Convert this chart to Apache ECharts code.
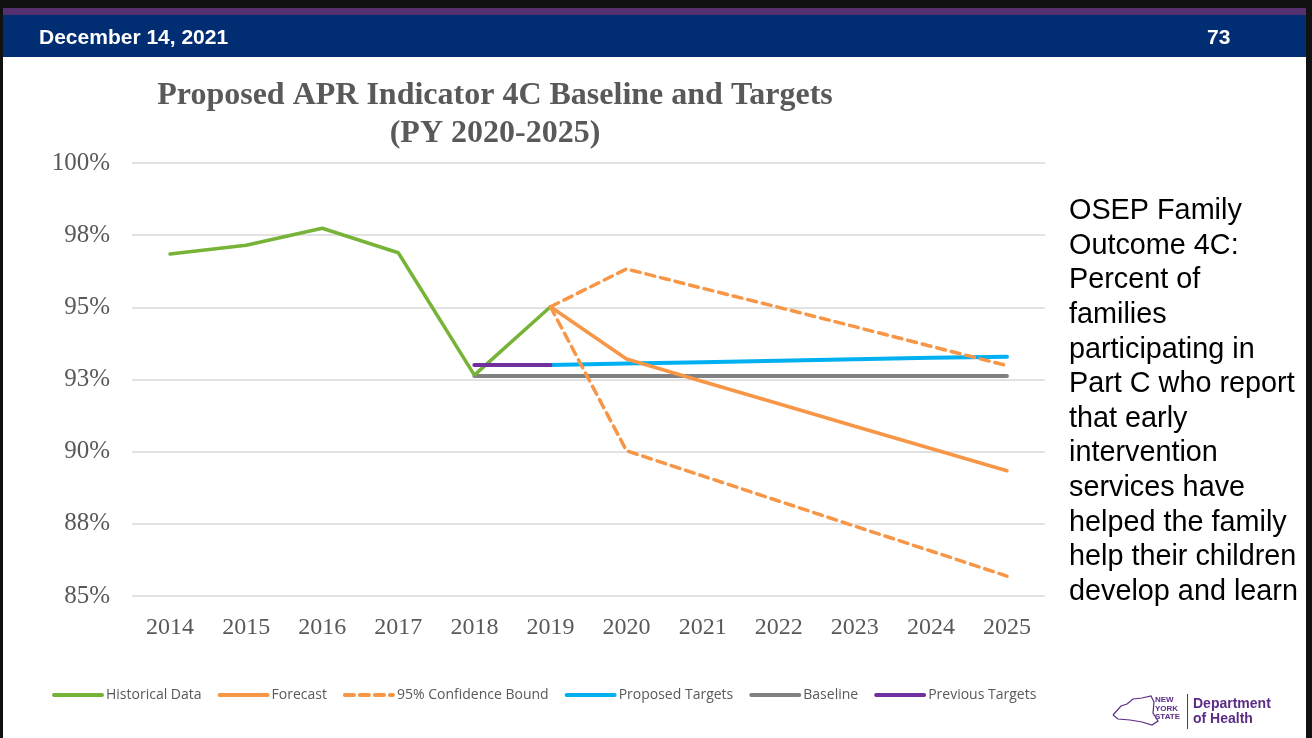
<!DOCTYPE html>
<html>
<head>
  <meta charset="UTF-8">
  <title>APR Indicator 4C</title>
  <script src="https://cdn.jsdelivr.net/npm/echarts@6/dist/echarts.min.js"></script>
  <style>
    * {
      box-sizing: border-box;
    }

    body {
      margin: 0;
      background: #fff;
    }

    #main {
      width: 1312px;
      height: 738px;
    }
  </style>
</head>

<body>
  <div id="main"></div>
  <script>
    const years = ['2014', '2015', '2016', '2017', '2018', '2019', '2020', '2021', '2022', '2023', '2024', '2025']
    const historical = [96.85, 97.15, 97.74, 96.89, 92.65, 95.02, null, null, null, null, null, null]
    const forecast = [null, null, null, null, null, 95.02, 93.21, 92.43, 91.66, 90.88, 90.11, 89.34]
    const upperBound = [null, null, null, null, null, 95.02, 96.33, 95.66, 95.0, 94.33, 93.65, 92.98]
    const lowerBound = [null, null, null, null, null, 95.02, 90.03, 89.16, 88.29, 87.42, 86.56, 85.69]
    const proposed = [null, null, null, null, null, 93.0, 93.05, 93.1, 93.15, 93.2, 93.25, 93.29]
    const baseline = [null, null, null, null, 92.62, 92.62, 92.62, 92.62, 92.62, 92.62, 92.62, 92.62]
    const previous = [null, null, null, null, 93.0, 93.0, null, null, null, null, null, null]
    const descLines = ['OSEP Family', 'Outcome 4C:', 'Percent of', 'families', 'participating in',
      'Part C who report', 'that early', 'intervention', 'services have', 'helped the family',
      'help their children', 'develop and learn']

    const orange = '#F79646'
    const serif = '"Liberation Serif", "DejaVu Serif", serif'

    function line(name, data, color, width, dashed) {
      return {
        name: name,
        type: 'line',
        data: data,
        symbol: 'none',
        connectNulls: false,
        lineStyle: { color: color, width: width, type: dashed ? [9, 6] : 'solid', cap: 'round' },
        itemStyle: { color: color },
        emphasis: { disabled: true }
      }
    }

    const chart = echarts.init(document.getElementById('main'))
    const option = {
      animation: false,
      title: {
        text: 'Proposed APR Indicator 4C Baseline and Targets\n(PY 2020-2025)',
        left: 490,
        top: 72,
        textAlign: 'center',
        textStyle: {
          fontFamily: serif,
          fontWeight: 'bold',
          fontSize: 32,
          lineHeight: 38,
          color: '#595959'
        }
      },
      grid: { left: 132, right: 267, top: 163, bottom: 142 },
      xAxis: {
        type: 'category',
        data: years,
        boundaryGap: true,
        axisLine: { show: false },
        axisTick: { show: false },
        axisLabel: { fontFamily: serif, fontSize: 24, color: '#595959', margin: 20 }
      },
      yAxis: {
        type: 'value',
        min: 85,
        max: 100,
        interval: 2.5,
        axisLine: { show: false },
        axisTick: { show: false },
        splitLine: { lineStyle: { color: '#D9D9D9', width: 1.5 } },
        axisLabel: {
          fontFamily: serif, fontSize: 25, color: '#595959', margin: 22,
          formatter: v => Math.round(v) + '%'
        }
      },
      legend: {
        left: 47,
        top: 683,
        itemWidth: 48,
        itemHeight: 14,
        itemGap: 16,
        itemStyle: { opacity: 0 },
        lineStyle: { width: 4 },
        textStyle: { fontFamily: '"Open Sans"', fontSize: 14, color: '#595959', padding: [0, 0, 0, -1] },
        data: ['Historical Data', 'Forecast', '95% Confidence Bound', 'Proposed Targets', 'Baseline', 'Previous Targets']
      },
      series: [
        line('Baseline', baseline, '#808080', 4),
        line('Proposed Targets', proposed, '#00B0F0', 4),
        line('Historical Data', historical, '#77B337', 3.5),
        line('Forecast', forecast, orange, 3.5),
        line('95% Confidence Bound', upperBound, orange, 3.5, true),
        line('95% Confidence Bound', lowerBound, orange, 3.5, true),
        line('Previous Targets', previous, '#7030A0', 4)
      ],
      graphic: [
        // slide frame and header
        { type: 'rect', shape: { x: 0, y: 0, width: 1312, height: 8 }, style: { fill: '#111' } },
        { type: 'rect', shape: { x: 0, y: 8, width: 1312, height: 7 }, style: { fill: '#55306F' } },
        { type: 'rect', shape: { x: 0, y: 15, width: 1312, height: 42 }, style: { fill: '#012D72' } },
        { type: 'rect', shape: { x: 0, y: 0, width: 3, height: 738 }, style: { fill: '#111' } },
        { type: 'rect', shape: { x: 1306, y: 0, width: 6, height: 738 }, style: { fill: '#111' } },
        {
          type: 'text', left: 39, top: 28,
          style: { text: 'December 14, 2021', fill: '#fff', font: 'bold 21px "Liberation Sans", Arial' }
        },
        {
          type: 'text', left: 1207, top: 28,
          style: { text: '73', fill: '#fff', font: 'bold 21px "Liberation Sans", Arial' }
        },
        // description on the right
        {
          type: 'text', left: 1069, top: 194,
          style: {
            text: descLines.join('\n'),
            fill: '#000',
            font: '28.8px "Liberation Sans", Arial',
            lineHeight: 34.6
          }
        },
        // department logo
        {
          type: 'polyline',
          shape: {
            points: [[1113, 715], [1121, 706], [1127, 704], [1133, 699], [1142, 698], [1151, 696],
              [1154, 702], [1153, 713], [1158, 721], [1152, 725], [1142, 722], [1130, 720], [1118, 719], [1113, 715]]
          },
          style: { stroke: '#5B2C86', lineWidth: 1.2, fill: 'none' }
        },
        {
          type: 'text', left: 1155, top: 696,
          style: { text: 'NEW\nYORK\nSTATE', fill: '#5B2C86', font: 'bold 8px "Liberation Sans", Arial', lineHeight: 8.5, align: 'left' }
        },
        { type: 'rect', shape: { x: 1187, y: 694, width: 1, height: 35 }, style: { fill: '#5B2C86' } },
        {
          type: 'text', left: 1193, top: 697,
          style: { text: 'Department\nof Health', fill: '#5B2C86', font: 'bold 14px "Liberation Sans", Arial', lineHeight: 15 }
        }
      ]
    }
    chart.setOption(option)
  </script>
</body>

</html>
